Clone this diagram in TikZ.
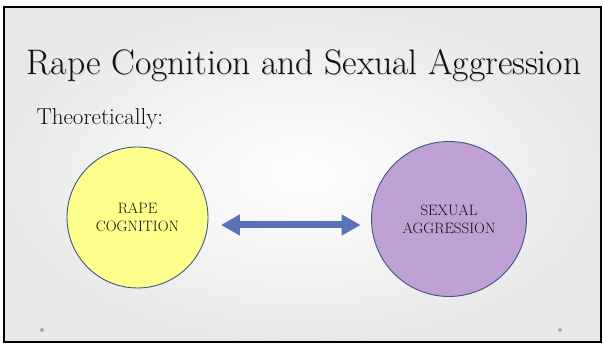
\documentclass[tikz,border=0pt]{standalone}
\usetikzlibrary{arrows.meta}
\definecolor{cogyellow}{RGB}{255,255,140}
\definecolor{aggpurple}{RGB}{191,161,212}
\definecolor{ringblue}{RGB}{62,84,138}
\definecolor{arrowblue}{RGB}{88,114,184}
\definecolor{inkgray}{RGB}{15,15,15}

\begin{document}
\begin{tikzpicture}[x=1pt,y=1pt,
  bubble/.style={circle,draw=ringblue,line width=0.9pt,inner sep=0pt,align=center,
    text=inkgray,font=\fontsize{15}{18}\selectfont},
  link/.style={arrowblue,line width=7pt,
    {Triangle[width=20pt,length=19pt]}-{Triangle[width=20pt,length=19pt]}},
  footdot/.style={circle,fill=gray!70,inner sep=0pt,minimum size=4pt}]
\useasboundingbox (0,0) rectangle (603,344);

\shade[inner color=white,outer color=gray!17] (3.5,2.3) rectangle (600.5,337);
\draw[line width=2pt] (3.5,2.3) rectangle (600.5,337);

\node[anchor=base,gray!35,font=\fontsize{35.5}{40}\selectfont] at (305,268) {Rape Cognition and Sexual Aggression};
\node[anchor=base,text=inkgray,font=\fontsize{35.5}{40}\selectfont] (title) at (304,269) {Rape Cognition and Sexual Aggression};
\node[anchor=base west,text=inkgray,font=\fontsize{23}{26}\selectfont] (theo) at (33,219) {Theoretically:};

\node[bubble,fill=cogyellow,minimum size=141pt] (cog) at (137.5,126.5) {RAPE\\COGNITION};
\node[bubble,fill=aggpurple,minimum size=155pt] (agg) at (449,125) {SEXUAL\\AGGRESSION};

\draw[link,shorten <=12.5pt,shorten >=10.5pt] (cog.east |- 0,119) -- (agg.west |- 0,119);

\node[footdot] (dotl) at (42,14) {};
\node[footdot] (dotr) at (560,14) {};
\end{tikzpicture}
\end{document}
